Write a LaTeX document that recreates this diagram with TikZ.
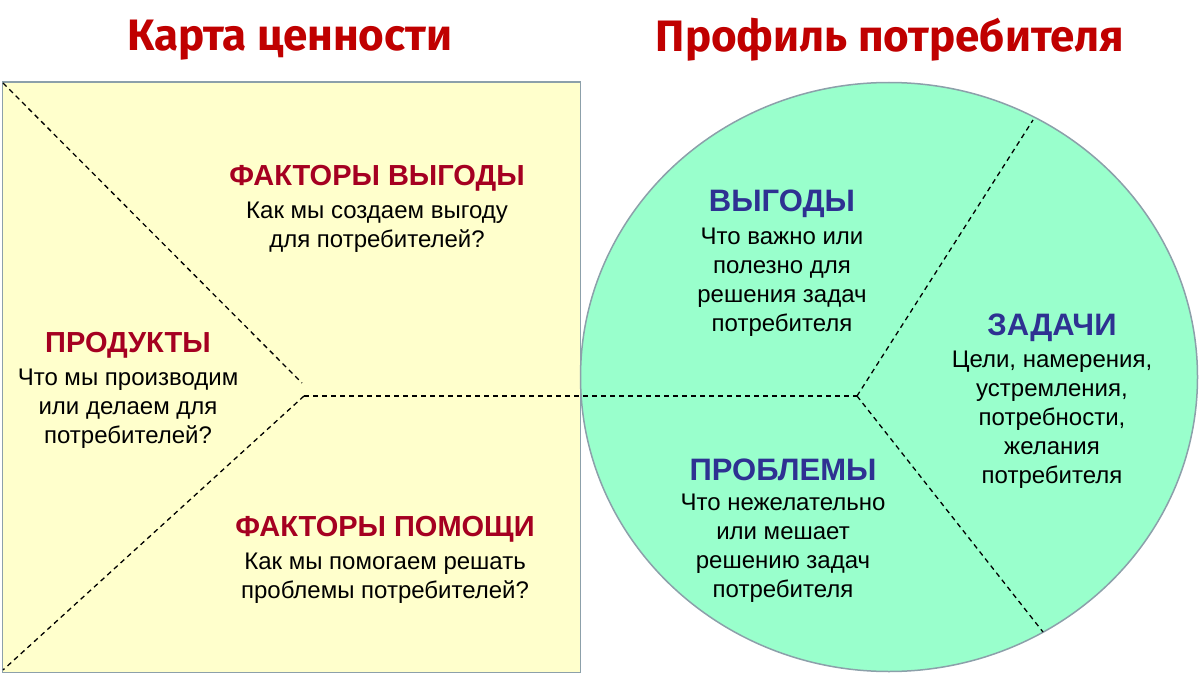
\documentclass[tikz,border=0pt]{standalone}
\usepackage{fontspec}
\setmainfont{Liberation Sans}
\newfontfamily\titlefont{Fira Sans}
\usetikzlibrary{shapes.geometric}
\definecolor{titlered}{HTML}{C00000}
\definecolor{headred}{HTML}{A50021}
\definecolor{headblue}{HTML}{2E3192}
\definecolor{mapfill}{HTML}{FFFFCC}
\definecolor{proffill}{HTML}{99FFCC}
\definecolor{edgecol}{HTML}{8CA0AA}
\tikzset{
  titletext/.style={font=\titlefont\bfseries\fontsize{44}{50}\selectfont, text=titlered, inner sep=0pt},
  headr/.style={font=\bfseries\fontsize{29}{32}\selectfont, text=headred, inner sep=0pt},
  headb/.style={font=\bfseries\fontsize{31}{34}\selectfont, text=headblue, inner sep=0pt},
  bodytext/.style={font=\fontsize{24}{29}\selectfont, align=center, inner sep=0pt},
  divider/.style={dash pattern=on 5pt off 4pt, line width=1.3pt, black},
}
\begin{document}
\begin{tikzpicture}[x=1pt,y=-1pt]
\useasboundingbox (0,0) rectangle (1200,674);
\fill[white] (0,0) rectangle (1200,674);
% titles
\node[titletext] (t1) at (290,40) {Карта ценности};
\node[titletext] (t2) at (890,40) {Профиль потребителя};
% shapes
\node[draw=edgecol, fill=mapfill, line width=1.5pt, minimum width=578pt, minimum height=590pt, anchor=north west, inner sep=0pt] (map) at (1.5,81.5) {};
\node[draw=edgecol, fill=proffill, line width=1.5pt, ellipse, minimum width=617pt, minimum height=589pt, inner sep=0pt] (prof) at (889,377) {};
% dividers
\coordinate (tl) at (3,83);
\coordinate (pu) at (302,383);
\coordinate (pm) at (304,396);
\coordinate (bl) at (3,670);
\coordinate (cm) at (857,396);
\coordinate (ct) at (1033,120);
\coordinate (cb) at (1043,632);
\draw[divider] (tl) -- (pu);
\draw[divider] (pm) -- (bl);
\draw[divider] (pm) -- (cm);
\draw[divider] (cm) -- (ct);
\draw[divider] (cm) -- (cb);
% value map texts
\node[headr] (h1) at (377,178) {ФАКТОРЫ ВЫГОДЫ};
\node[bodytext] (b1) at (377,227) {Как мы создаем выгоду\\для потребителей?};
\node[headr] (h2) at (128,345) {ПРОДУКТЫ};
\node[bodytext] (b2) at (128,409) {Что мы производим\\или делаем для\\потребителей?};
\node[headr] (h3) at (385,529) {ФАКТОРЫ ПОМОЩИ};
\node[bodytext] (b3) at (385,578) {Как мы помогаем решать\\проблемы потребителей?};
% profile texts
\node[headb] (h4) at (782,204) {ВЫГОДЫ};
\node[bodytext] (b4) at (782,282) {Что важно или\\полезно для\\решения задач\\потребителя};
\node[headb] (h5) at (1052,328) {ЗАДАЧИ};
\node[bodytext] (b5) at (1052,420) {Цели, намерения,\\устремления,\\потребности,\\желания\\потребителя};
\node[headb] (h6) at (783,470) {ПРОБЛЕМЫ};
\node[bodytext] (b6) at (783,548) {Что нежелательно\\или мешает\\решению задач\\потребителя};
\end{tikzpicture}
\end{document}
